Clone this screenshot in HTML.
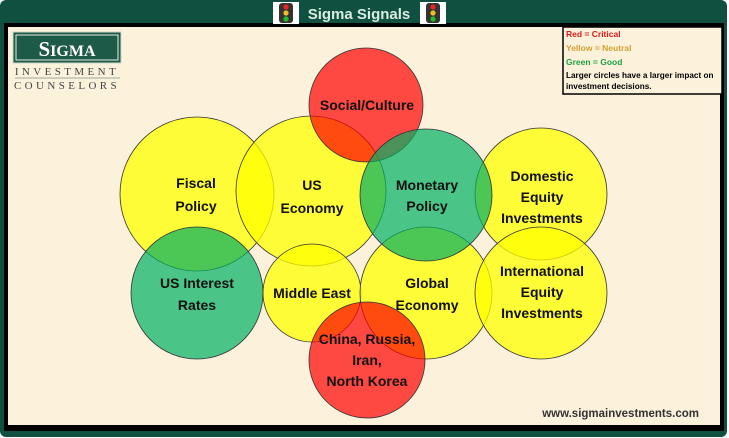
<!DOCTYPE html>
<html><head><meta charset="utf-8"><style>
html,body{margin:0;padding:0;background:#fff;}
svg{display:block}
text{font-family:"Liberation Sans",sans-serif;}
</style></head><body>
<svg width="729" height="438" viewBox="0 0 729 438" xmlns="http://www.w3.org/2000/svg">
<rect x="0" y="0" width="727" height="437" rx="6" fill="#0f5040"/>
<rect x="4" y="23" width="720" height="408" fill="#000"/>
<rect x="8" y="27" width="712" height="398" fill="#fcf2dc"/>
<!-- title -->
<g>
<rect x="273" y="2" width="26" height="22" fill="#fff"/>
<rect x="279" y="3" width="14" height="20" rx="3" fill="#333"/>
<circle cx="286" cy="7" r="2.6" fill="#e22"/><circle cx="286" cy="13" r="2.6" fill="#eb2"/><circle cx="286" cy="19" r="2.6" fill="#2b2"/>
<rect x="420" y="2" width="26" height="22" fill="#fff"/>
<rect x="426" y="3" width="14" height="20" rx="3" fill="#333"/>
<circle cx="433" cy="7" r="2.6" fill="#e22"/><circle cx="433" cy="13" r="2.6" fill="#eb2"/><circle cx="433" cy="19" r="2.6" fill="#2b2"/>
<text x="359" y="19" text-anchor="middle" font-size="15" font-weight="bold" fill="#d8ece2">Sigma Signals</text>
</g>
<!-- logo -->
<rect x="13" y="32" width="108" height="31" fill="#1d5a47" stroke="#cfd8cc" stroke-width="1"/>
<rect x="16" y="35" width="102" height="25" fill="none" stroke="#e8efe6" stroke-width="1"/>
<text x="67" y="56" text-anchor="middle" font-family="Liberation Serif,serif" font-size="21" font-weight="bold" fill="#fff" style="font-family:'Liberation Serif',serif">S<tspan font-size="16">IGMA</tspan></text>
<text x="67" y="75" text-anchor="middle" font-size="11" fill="#444" letter-spacing="3.4" style="font-family:'Liberation Serif',serif">INVESTMENT</text>
<line x1="15" y1="78" x2="120" y2="78" stroke="#9a9" stroke-width="1"/>
<text x="67" y="89" text-anchor="middle" font-size="11" fill="#444" letter-spacing="3.4" style="font-family:'Liberation Serif',serif">COUNSELORS</text>
<!-- legend -->
<rect x="563" y="27" width="159" height="67" fill="#fcf2dc" stroke="#000" stroke-width="1.5"/>
<text x="566" y="37" font-size="8.5" font-weight="bold" fill="#e01818">Red = Critical</text>
<text x="566" y="51" font-size="8.5" font-weight="bold" fill="#d4a030">Yellow = Neutral</text>
<text x="566" y="65" font-size="8.5" font-weight="bold" fill="#20a040">Green = Good</text>
<text x="566" y="78" font-size="8.2" font-weight="bold" fill="#000">Larger circles have a larger impact on</text>
<text x="566" y="89" font-size="8.2" font-weight="bold" fill="#000">investment decisions.</text>
<!-- circles -->
<g stroke="#333" stroke-width="0.8">
<circle cx="197" cy="194" r="77" fill="rgba(255,255,0,0.75)"/>
<circle cx="311" cy="191" r="75" fill="rgba(255,255,0,0.75)"/>
<circle cx="541" cy="194" r="66" fill="rgba(255,255,0,0.75)"/>
<circle cx="312" cy="293" r="49" fill="rgba(255,255,0,0.75)"/>
<circle cx="426" cy="293" r="66" fill="rgba(255,255,0,0.75)"/>
<circle cx="541" cy="293" r="66" fill="rgba(255,255,0,0.75)"/>
<circle cx="366" cy="105" r="57" fill="rgba(255,0,0,0.7)"/>
<circle cx="367" cy="360" r="58" fill="rgba(255,0,0,0.7)"/>
<circle cx="426" cy="195" r="66" fill="rgba(0,176,100,0.7)"/>
<circle cx="197" cy="293" r="66" fill="rgba(0,176,100,0.7)"/>
</g>
<g font-size="14" font-weight="bold" fill="#111" text-anchor="middle">
<text x="367" y="110">Social/Culture</text>
<text x="196" y="188">Fiscal</text><text x="196" y="211">Policy</text>
<text x="312" y="190">US</text><text x="312" y="213">Economy</text>
<text x="427" y="190">Monetary</text><text x="427" y="211">Policy</text>
<text x="542" y="181">Domestic</text><text x="542" y="202">Equity</text><text x="542" y="223">Investments</text>
<text x="197" y="288">US Interest</text><text x="197" y="310">Rates</text>
<text x="312" y="298">Middle East</text>
<text x="427" y="288">Global</text><text x="427" y="310">Economy</text>
<text x="542" y="276">International</text><text x="542" y="297">Equity</text><text x="542" y="318">Investments</text>
<text x="367" y="344">China, Russia,</text><text x="367" y="365">Iran,</text><text x="367" y="386">North Korea</text>
</g>
<text x="699" y="417" text-anchor="end" font-size="11.5" font-weight="bold" fill="#333">www.sigmainvestments.com</text>
</svg>
</body></html>
